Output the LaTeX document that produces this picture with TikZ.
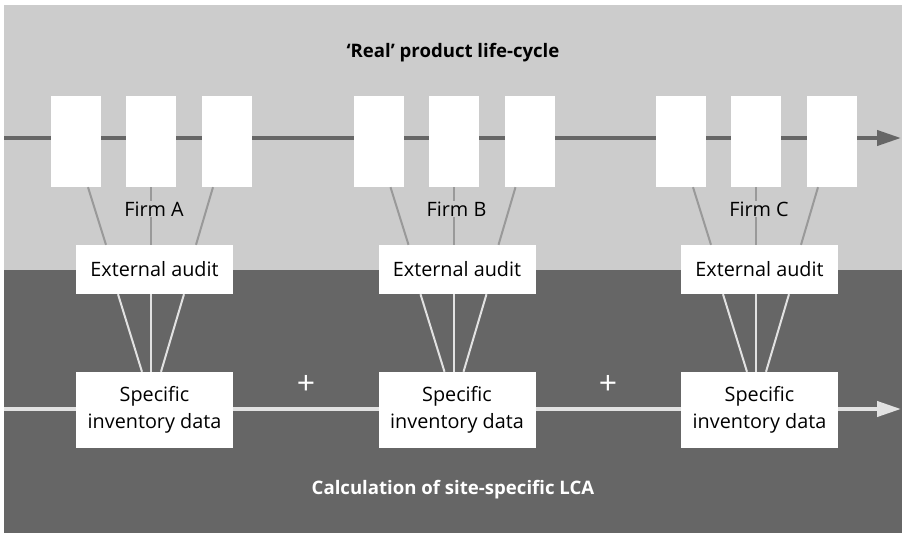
\documentclass[tikz,border=0pt]{standalone}
\usepackage{fontspec}
\setmainfont{Open Sans}
\usetikzlibrary{arrows.meta}
\definecolor{lightbg}{HTML}{CCCCCC}
\definecolor{darkbg}{HTML}{666666}
\definecolor{upline}{HTML}{999999}
\definecolor{lowline}{HTML}{E2E2E2}
\begin{document}
\begin{tikzpicture}[x=1pt,y=-1pt,
  stagebox/.style={fill=white,draw=none,minimum width=50pt,minimum height=91pt,inner sep=0pt},
  auditbox/.style={fill=white,draw=none,minimum width=157pt,minimum height=49pt,inner sep=0pt,
    font=\fontsize{19.8}{23}\selectfont},
  databox/.style={fill=white,draw=none,minimum width=157pt,minimum height=76pt,inner sep=0pt,
    align=center,font=\fontsize{19.8}{27}\selectfont},
  firmlabel/.style={fill=lightbg,inner sep=1pt,font=\fontsize{19.8}{23}\selectfont},
  titletext/.style={font=\fontsize{18.6}{23}\selectfont\bfseries},
  upflow/.style={draw=darkbg,line width=4pt,-{Triangle[length=24pt,width=15pt]}},
  lowflow/.style={draw=lowline,line width=4pt,-{Triangle[length=24pt,width=15pt]}},
  upconn/.style={draw=upline,line width=2pt},
  lowconn/.style={draw=lowline,line width=2pt},
  plussign/.style={text=white,font=\fontsize{32}{32}\selectfont,inner sep=0pt}
]
\useasboundingbox (0,0) rectangle (902,533);
\fill[lightbg] (4,5) rectangle (902,270);
\fill[darkbg] (4,270) rectangle (902,533);

% flow lines
\coordinate (tstart) at (4,138);
\coordinate (tend) at (901,138);
\coordinate (bstart) at (4,409);
\coordinate (bend) at (901,409);
\draw[upflow] (tstart) -- (tend);
\draw[lowflow] (bstart) -- (bend);

% titles
\node[titletext,text=black] (title) at (453,53) {‘Real’ product life-cycle};
\node[titletext,text=white] (calc) at (453,490) {Calculation of site-specific LCA};

% groups
\foreach \c/\n in {151/A,453.5/B,756/C}{
  \node[stagebox] (s1\n) at (\c-75,141.5) {};
  \node[stagebox] (s2\n) at (\c,141.5) {};
  \node[stagebox] (s3\n) at (\c+76,141.5) {};
  \node[auditbox] (au\n) at (\c+3.5,269.5) {External audit};
  \node[databox] (da\n) at (\c+3.5,410) {Specific\\inventory data};
  \draw[upconn] ([xshift=12pt]s1\n.south) -- ([xshift=-48.5pt]au\n.north);
  \draw[upconn] (s2\n.south) -- ([xshift=-3.5pt]au\n.north);
  \draw[upconn] ([xshift=-14pt]s3\n.south) -- ([xshift=41.5pt]au\n.north);
  \draw[lowconn] ([xshift=-36.5pt]au\n.south) -- ([xshift=-12.5pt]da\n.north);
  \draw[lowconn] ([xshift=-3.5pt]au\n.south) -- ([xshift=-3.5pt]da\n.north);
  \draw[lowconn] ([xshift=29.5pt]au\n.south) -- ([xshift=6.5pt]da\n.north);
  \node[firmlabel] (firm\n) at (\c+3,209) {Firm \n};
}

\node[plussign] (plus1) at (306,385) {+};
\node[plussign] (plus2) at (608,385) {+};
\end{tikzpicture}
\end{document}
